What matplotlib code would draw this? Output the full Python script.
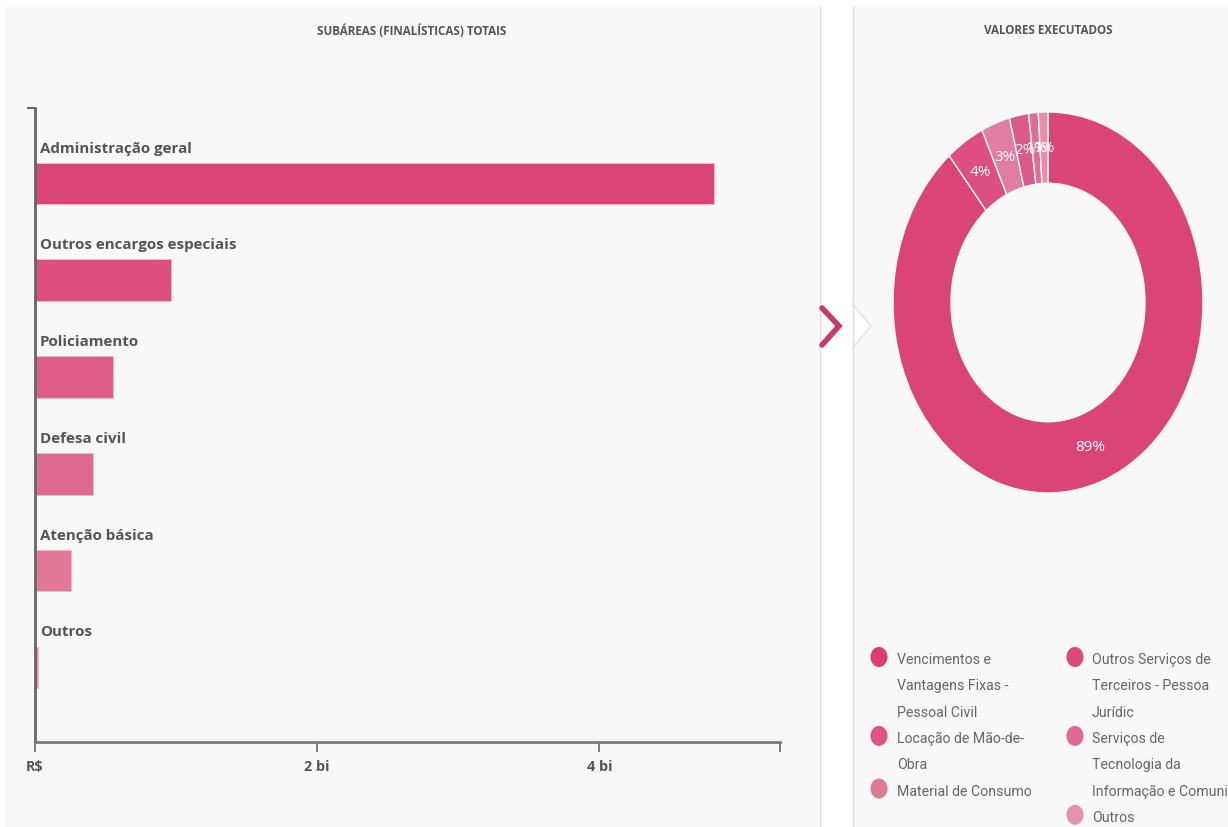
import numpy as np
import matplotlib.pyplot as plt
from matplotlib.patches import Ellipse, Rectangle, Polygon

W, H = 1228, 827

# subáreas finalísticas, valores totais em bilhões de R$
subareas = ['Administração geral', 'Outros encargos especiais', 'Policiamento',
            'Defesa civil', 'Atenção básica', 'Outros']
totais_bi = [4.81, 0.965, 0.55, 0.41, 0.255, 0.02]
cores_barras = ['#db4477', '#dc4f7f', '#dd5c88', '#df6a91', '#e1789a', '#e589a6']

x_ticks = [0, 2, 4]
x_ticklabels = ['R$', '2 bi', '4 bi']
x_max = 5.28

# valores executados por elemento de despesa (%)
elementos = ['Vencimentos e\nVantagens Fixas -\nPessoal Civil',
             'Outros Serviços de\nTerceiros - Pessoa\nJurídic',
             'Locação de Mão-de-\nObra',
             'Serviços de\nTecnologia da\nInformação e Comuni',
             'Material de Consumo',
             'Outros']
percentuais = [89, 4, 3, 2, 1, 1]
cores_fatias = ['#db4477', '#dc4f80', '#e07da0', '#dc5a88', '#df6d95', '#e68fab']
cores_legenda = ['#dc3d73', '#dc4a7a', '#de5485', '#e06993', '#e07898', '#e592ad']

CINZA_TXT = '#555555'
FUNDO = '#f8f8f8'

fig = plt.figure(figsize=(W / 100, H / 100), dpi=100, facecolor='white')

# camada de fundo em pixels: painéis, seta, títulos e legenda
bg = fig.add_axes([0, 0, 1, 1], zorder=-1)
bg.set_xlim(0, W)
bg.set_ylim(H, 0)
bg.axis('off')
bg.add_patch(Rectangle((5, 7), 814, H - 7, facecolor=FUNDO, edgecolor='none'))
bg.add_patch(Rectangle((853, 7), W - 853, H - 7, facecolor=FUNDO, edgecolor='none'))
bg.plot([819.5, 819.5], [7, H], color='#dedede', lw=1)
bg.plot([852.5, 852.5], [7, H], color='#dedede', lw=1)
bg.add_patch(Polygon([(852, 304), (871, 326), (852, 348)], closed=True,
                     facecolor='white', edgecolor='none'))
bg.plot([852.5, 871, 852.5], [304, 326, 348], color='#e2e2e2', lw=1)
bg.plot([822, 839, 822], [308, 326, 345], color='#c93a6c', lw=4,
        solid_capstyle='round', solid_joinstyle='miter')

bg.text(412, 31, 'SUBÁREAS (FINALÍSTICAS) TOTAIS', ha='center', va='center',
        fontsize=8.4, fontweight='bold', family='Open Sans', color=CINZA_TXT)
bg.text(1048, 31, 'VALORES EXECUTADOS', ha='center', va='center',
        fontsize=8.4, fontweight='bold', family='Open Sans', color=CINZA_TXT)

# legenda em duas colunas, cada coluna empilhada pelo número de linhas
passo = 26.3
colunas = [(879, 897), (1075, 1092)]
y_col = [660, 660]
for i, (nome, cor) in enumerate(zip(elementos, cores_legenda)):
    c = i % 2
    xd, xt = colunas[c]
    y0 = y_col[c]
    bg.add_patch(Ellipse((xd, y0 - 3), 17, 20, facecolor=cor, edgecolor='none'))
    for k, linha in enumerate(nome.split('\n')):
        bg.text(xt, y0 + k * passo, linha, ha='left', va='center',
                fontsize=10.2, family='Roboto', color='#666666')
    y_col[c] += passo * len(nome.split('\n'))

# barras horizontais
ax = fig.add_axes([35 / W, 1 - 742 / H, 745 / W, 634 / H])
ax.patch.set_alpha(0)
pos = np.arange(len(subareas))
ax.barh(pos, totais_bi, height=0.43, color=cores_barras, edgecolor='#f2b8cb', lw=0.6)
for p, nome in zip(pos, subareas):
    ax.text(0.035, p - 0.32, nome, ha='left', va='baseline', fontsize=10.9,
            fontweight='bold', family='Open Sans', color=CINZA_TXT)

ax.set_xlim(0, x_max)
ax.set_ylim(5.77, -0.78)
ax.set_xticks(x_ticks + [x_max])
ax.set_xticklabels(x_ticklabels + [''])
ax.set_yticks([-0.78])
ax.set_yticklabels([''])
ax.tick_params(axis='x', direction='out', length=7, width=1.2, colors='#666666', pad=6)
ax.tick_params(axis='y', direction='out', length=6, width=1.5, colors='#666666')
for lbl in ax.get_xticklabels():
    lbl.set_fontfamily('Open Sans')
    lbl.set_fontweight('bold')
    lbl.set_fontsize(10.4)
    lbl.set_color(CINZA_TXT)
for s in ['top', 'right']:
    ax.spines[s].set_visible(False)
ax.spines['left'].set_color('#666666')
ax.spines['left'].set_linewidth(2)
ax.spines['bottom'].set_color('#7a7a7a')
ax.spines['bottom'].set_linewidth(2)

# rosca de valores executados
ax2 = fig.add_axes([893 / W, 1 - 493 / H, 310 / W, 381 / H])
ax2.patch.set_alpha(0)
wedges, texts, autotexts = ax2.pie(
    percentuais, colors=cores_fatias, startangle=90, counterclock=False,
    radius=1, autopct=lambda v: f'{v:.0f}%', pctdistance=0.81,
    wedgeprops=dict(width=0.374, edgecolor=FUNDO, linewidth=1),
    textprops=dict(color='white', fontsize=11, family='Open Sans'))
ax2.set_aspect('auto')
ax2.set_xlim(-1, 1)
ax2.set_ylim(-1, 1)
ax2.axis('off')

fig.savefig('out.png', dpi=100, facecolor=fig.get_facecolor())
